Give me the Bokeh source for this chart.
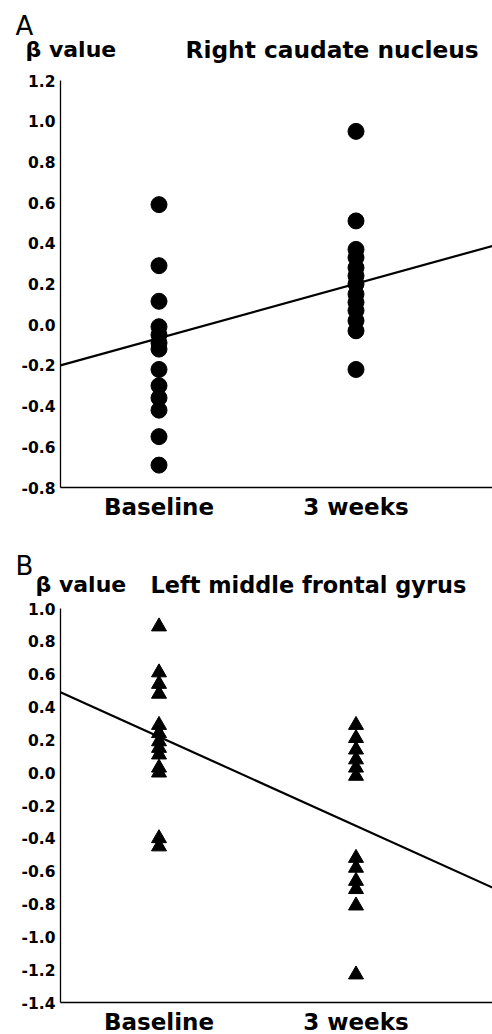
from bokeh.plotting import figure
from bokeh.layouts import column
from bokeh.models import Range1d, FixedTicker, Label, PrintfTickFormatter
from bokeh.embed import file_html
from bokeh.resources import INLINE

# ---------------- data ----------------
categories = ["Baseline", "3 weeks"]
cat_pos = [1, 2]

# Panel A: Right caudate nucleus (circles)
a_baseline = [0.59, 0.29, 0.115, -0.01, -0.05, -0.09, -0.12, -0.22, -0.30, -0.36, -0.42, -0.55, -0.69]
a_3weeks = [0.95, 0.51, 0.37, 0.33, 0.28, 0.24, 0.20, 0.15, 0.11, 0.07, 0.02, -0.03, -0.22]
a_trend_x = [0.5, 2.693]
a_trend_y = [-0.20, 0.387]
a_yticks = [-0.8, -0.6, -0.4, -0.2, 0.0, 0.2, 0.4, 0.6, 0.8, 1.0, 1.2]
a_title = "Right caudate nucleus"

# Panel B: Left middle frontal gyrus (triangles)
b_baseline = [0.89, 0.61, 0.54, 0.48, 0.29, 0.24, 0.19, 0.15, 0.11, 0.03, 0.0, -0.40, -0.45]
b_3weeks = [0.29, 0.21, 0.14, 0.08, 0.03, -0.02, -0.52, -0.58, -0.66, -0.71, -0.81, -1.23]
b_trend_x = [0.5, 2.693]
b_trend_y = [0.49, -0.70]
b_yticks = [-1.4, -1.2, -1.0, -0.8, -0.6, -0.4, -0.2, 0.0, 0.2, 0.4, 0.6, 0.8, 1.0]
b_title = "Left middle frontal gyrus"

y_label = "β value"
panel_letters = ["A", "B"]

# ---------------- layout ----------------
FONT = "DejaVu Sans"
W = 492
AXIS_PX = 60          # pixel column of the y axis (x = 0.5)
PPX = 197.0           # pixels per category step
X0 = 0.5 - AXIS_PX / PPX
X1 = 0.5 + (W - AXIS_PX) / PPX


def make_panel(height, yr, ytop_px, ybot_px):
    """Frame covers the whole figure; axes are drawn at fixed locations.
    yr = (ymin, ymax) of the drawn y axis, at pixel rows ybot_px / ytop_px."""
    ppy = (ybot_px - ytop_px) / (yr[1] - yr[0])
    y_end = yr[1] + ytop_px / ppy
    y_start = yr[0] - (height - ybot_px) / ppy
    p = figure(width=W, height=height, title=None,
               x_range=Range1d(X0, X1), y_range=Range1d(y_start, y_end),
               output_backend="svg", toolbar_location=None,
               min_border_left=0, min_border_right=0,
               min_border_top=0, min_border_bottom=0)
    p.outline_line_color = None
    p.grid.visible = False
    p.background_fill_color = "white"
    p.border_fill_color = "white"
    return p, ppy


def style_axes(p, yr, yticks):
    ya = p.yaxis[0]
    ya.fixed_location = 0.5
    ya.bounds = yr
    ya.ticker = FixedTicker(ticks=yticks)
    ya.formatter = PrintfTickFormatter(format="%.1f")
    ya.major_tick_out = 0
    ya.major_tick_in = 0
    ya.minor_tick_out = 0
    ya.minor_tick_in = 0
    ya.axis_line_width = 1.3
    ya.axis_line_color = "black"
    ya.major_label_text_font = FONT
    ya.major_label_text_font_style = "bold"
    ya.major_label_text_font_size = "15.5px"
    ya.major_label_text_color = "black"
    ya.major_label_standoff = 5
    xa = p.xaxis[0]
    xa.fixed_location = yr[0]
    xa.bounds = (0.5, X1)
    xa.axis_line_width = 1.6
    xa.axis_line_color = "black"
    xa.major_tick_out = 0
    xa.major_tick_in = 0
    xa.minor_tick_out = 0
    xa.minor_tick_in = 0
    xa.ticker = FixedTicker(ticks=cat_pos)
    xa.major_label_overrides = {cat_pos[i]: categories[i] for i in range(len(cat_pos))}
    xa.major_label_text_font = FONT
    xa.major_label_text_font_style = "bold"
    xa.major_label_text_font_size = "23px"
    xa.major_label_text_color = "black"
    xa.major_label_standoff = 6


def add_text(p, ppy, px, py, text, size, bold=True):
    x = X0 + px / PPX
    y = p.y_range.end - py / ppy
    p.add_layout(Label(x=x, y=y, text=text, text_font=FONT,
                       text_font_style="bold" if bold else "normal",
                       text_font_size=size, text_color="black",
                       text_align="left", text_baseline="alphabetic"))


# ---- Panel A ----  (figure rows 0..540, 1.2 at row 80, -0.8 at row 487)
pa, ppy_a = make_panel(540, (-0.8, 1.2), 80, 487)
style_axes(pa, (-0.8, 1.2), a_yticks)
pa.line(a_trend_x, a_trend_y, line_color="black", line_width=2.2)
pa.scatter([cat_pos[0]] * len(a_baseline), a_baseline, marker="circle", size=16,
           fill_color="black", line_color="black")
pa.scatter([cat_pos[1]] * len(a_3weeks), a_3weeks, marker="circle", size=16,
           fill_color="black", line_color="black")
add_text(pa, ppy_a, 15, 25, panel_letters[0], "26px", bold=False)
add_text(pa, ppy_a, 25, 49, y_label, "22px")
add_text(pa, ppy_a, 185, 49, a_title, "23.3px")

# ---- Panel B ----  (figure rows 540..1034, 1.0 at row 68, -1.4 at row 462)
pb, ppy_b = make_panel(494, (-1.4, 1.0), 68, 462)
style_axes(pb, (-1.4, 1.0), b_yticks)
pb.line(b_trend_x, b_trend_y, line_color="black", line_width=2.2)
pb.scatter([cat_pos[0]] * len(b_baseline), b_baseline, marker="triangle", size=15,
           fill_color="black", line_color="black")
pb.scatter([cat_pos[1]] * len(b_3weeks), b_3weeks, marker="triangle", size=15,
           fill_color="black", line_color="black")
add_text(pb, ppy_b, 15, 25, panel_letters[1], "26px", bold=False)
add_text(pb, ppy_b, 35, 44, y_label, "22px")
add_text(pb, ppy_b, 150, 44, b_title, "22.4px")

layout = column(pa, pb, spacing=0)
open("out.html", "w").write(file_html(layout, INLINE))
